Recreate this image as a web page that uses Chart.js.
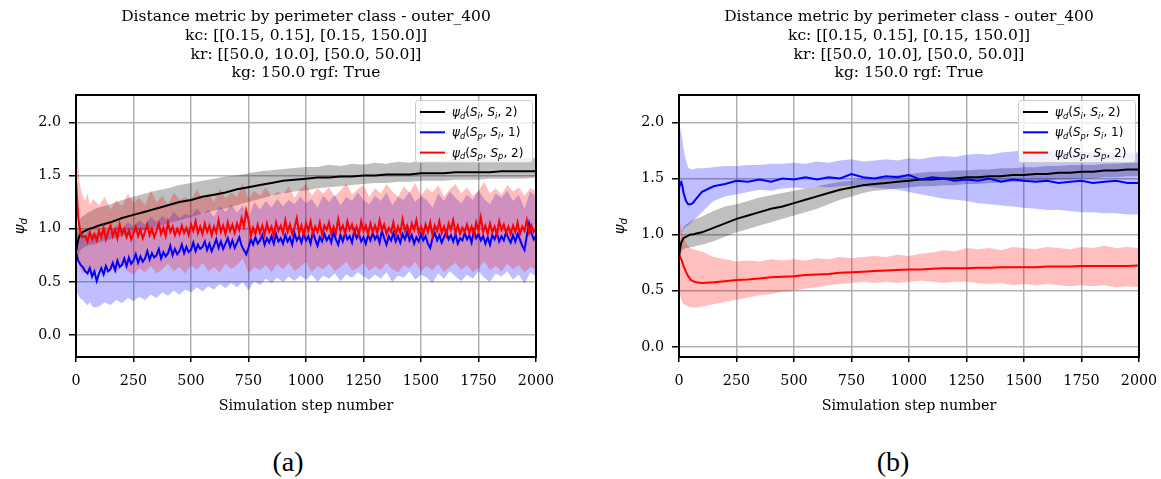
<!DOCTYPE html>
<html>
<head>
<meta charset="utf-8">
<script src="https://cdn.jsdelivr.net/npm/chart.js@4.4.1/dist/chart.umd.min.js"></script>
<style>
  html, body { margin: 0; padding: 0; background: #fff; }
  body { width: 1161px; height: 479px; position: relative; overflow: hidden; }
  canvas { position: absolute; top: 0; }
  #chartA { left: 0; }
  #chartB { left: 590px; }
  .cap { position: absolute; top: 447px; line-height: 30px; font-family: "Liberation Serif", "DejaVu Serif", serif; font-size: 28px; transform: translateX(-50%); }
</style>
</head>
<body>
<canvas id="chartA" width="580" height="420"></canvas>
<canvas id="chartB" width="580" height="420"></canvas>
<div class="cap" style="left:288px">(a)</div>
<div class="cap" style="left:893px">(b)</div>
<script>
const titleLines = [
  'Distance metric by perimeter class - outer_400',
  'kc: [[0.15, 0.15], [0.15, 150.0]]',
  'kr: [[50.0, 10.0], [50.0, 50.0]]',
  'kg: 150.0 rgf: True'
];
const seriesLabels = ['ψ_d(S_i, S_i, 2)', 'ψ_d(S_p, S_i, 1)', 'ψ_d(S_p, S_p, 2)'];
const lineColors = ['#000000', '#0000ff', '#ff0000'];
const bandColors = ['rgba(0,0,0,0.25)', 'rgba(0,0,255,0.25)', 'rgba(255,0,0,0.25)'];
const xTitle = 'Simulation step number';
const yTitle = 'ψ_d';

// step numbers (x values)
const stepsFine = [0, 10, 20, 30, 40, 50, 60, 70, 80, 90,
  100, 110, 120, 130, 140, 150, 160, 170, 180, 190, 200, 210, 220, 230, 240, 250, 260, 270, 280, 290,
  300, 310, 320, 330, 340, 350, 360, 370, 380, 390, 400, 410, 420, 430, 440, 450, 460, 470, 480, 490,
  500, 510, 520, 530, 540, 550, 560, 570, 580, 590, 600, 610, 620, 630, 640, 650, 660, 670, 680, 690,
  700, 710, 720, 730, 740, 750, 760, 770, 780, 790, 800, 810, 820, 830, 840, 850, 860, 870, 880, 890,
  900, 910, 920, 930, 940, 950, 960, 970, 980, 990, 1000, 1010, 1020, 1030, 1040, 1050, 1060, 1070, 1080, 1090,
  1100, 1110, 1120, 1130, 1140, 1150, 1160, 1170, 1180, 1190, 1200, 1210, 1220, 1230, 1240, 1250, 1260, 1270, 1280, 1290,
  1300, 1310, 1320, 1330, 1340, 1350, 1360, 1370, 1380, 1390, 1400, 1410, 1420, 1430, 1440, 1450, 1460, 1470, 1480, 1490,
  1500, 1510, 1520, 1530, 1540, 1550, 1560, 1570, 1580, 1590, 1600, 1610, 1620, 1630, 1640, 1650, 1660, 1670, 1680, 1690,
  1700, 1710, 1720, 1730, 1740, 1750, 1760, 1770, 1780, 1790, 1800, 1810, 1820, 1830, 1840, 1850, 1860, 1870, 1880, 1890,
  1900, 1910, 1920, 1930, 1940, 1950, 1960, 1970, 1980, 1990, 2000];
const stepsDense = [0, 5, 10, 15, 20, 30, 40, 50, 60, 75,
  100, 125, 150, 175, 200, 225, 250, 275, 300, 325, 350, 375, 400, 425, 450, 475,
  500, 525, 550, 575, 600, 625, 650, 675, 700, 725, 750, 775, 800, 825, 850, 875,
  900, 925, 950, 975, 1000, 1025, 1050, 1075, 1100, 1125, 1150, 1175, 1200, 1225, 1250, 1275,
  1300, 1325, 1350, 1375, 1400, 1425, 1450, 1475, 1500, 1525, 1550, 1575, 1600, 1625, 1650, 1675,
  1700, 1725, 1750, 1775, 1800, 1825, 1850, 1875, 1900, 1925, 1950, 1975, 2000];
const stepsSparse = [0, 5, 10, 15, 20, 30, 40, 50, 60, 75,
  100, 150, 200, 250, 300, 350, 400, 450, 500, 550, 600, 650, 700, 750, 800, 850, 900, 950,
  1000, 1050, 1100, 1150, 1200, 1250, 1300, 1350, 1400, 1450, 1500, 1550, 1600, 1650, 1700, 1750,
  1800, 1850, 1900, 1950, 2000];

// ---- panel (a) ----
// black: sparse steps
const aBlackMean = [0.78, 0.85, 0.90, 0.93, 0.95, 0.97, 0.98, 0.99, 1.00, 1.01,
  1.03, 1.06, 1.10, 1.13, 1.16, 1.19, 1.22, 1.25, 1.27, 1.30, 1.32, 1.34, 1.37, 1.39, 1.41, 1.43, 1.45, 1.46,
  1.47, 1.48, 1.48, 1.49, 1.49, 1.50, 1.50, 1.51, 1.51, 1.51, 1.52, 1.52, 1.52, 1.53, 1.53, 1.53,
  1.53, 1.54, 1.54, 1.54, 1.54];
const aBlackHi = [0.95, 1.00, 1.05, 1.08, 1.10, 1.12, 1.13, 1.15, 1.16, 1.18,
  1.20, 1.23, 1.27, 1.30, 1.33, 1.36, 1.38, 1.41, 1.43, 1.45, 1.47, 1.49, 1.50, 1.52, 1.54, 1.55, 1.56, 1.57,
  1.58, 1.58, 1.60, 1.59, 1.61, 1.60, 1.62, 1.61, 1.63, 1.62, 1.64, 1.63, 1.64, 1.65, 1.64, 1.66,
  1.65, 1.66, 1.65, 1.67, 1.66];
const aBlackLo = [0.62, 0.70, 0.75, 0.78, 0.80, 0.82, 0.83, 0.84, 0.85, 0.85,
  0.87, 0.90, 0.93, 0.96, 0.99, 1.02, 1.05, 1.08, 1.11, 1.14, 1.17, 1.19, 1.22, 1.25, 1.28, 1.31, 1.33, 1.35,
  1.36, 1.38, 1.39, 1.40, 1.41, 1.42, 1.43, 1.43, 1.44, 1.44, 1.45, 1.45, 1.45, 1.46, 1.46, 1.46,
  1.47, 1.47, 1.47, 1.47, 1.48];
// blue: mean on fine steps, band on dense steps
const aBlueMean = [0.78, 0.70, 0.66, 0.64, 0.60, 0.58, 0.63, 0.55, 0.60, 0.51,
  0.58, 0.63, 0.57, 0.65, 0.60, 0.62, 0.68, 0.61, 0.70, 0.64,
  0.66, 0.72, 0.65, 0.73, 0.67, 0.70, 0.76, 0.68, 0.74, 0.69,
  0.72, 0.79, 0.71, 0.77, 0.73, 0.75, 0.81, 0.72, 0.78, 0.74,
  0.77, 0.84, 0.75, 0.81, 0.76, 0.79, 0.85, 0.77, 0.83, 0.78,
  0.80, 0.87, 0.79, 0.85, 0.81, 0.83, 0.88, 0.80, 0.86, 0.79,
  0.84, 0.90, 0.82, 0.88, 0.81, 0.86, 0.91, 0.83, 0.89, 0.82,
  0.87, 0.92, 0.84, 0.80, 0.76, 0.82, 0.90, 0.85, 0.92, 0.86,
  0.89, 0.94, 0.85, 0.91, 0.87, 0.93, 0.86, 0.95, 0.88, 0.91,
  0.86, 0.94, 0.88, 0.92, 0.85, 0.96, 0.89, 0.93, 0.87, 0.95,
  0.89, 0.93, 0.86, 0.97, 0.90, 0.84, 0.92, 0.88, 0.95, 0.89,
  0.93, 0.87, 0.97, 0.90, 0.85, 0.94, 0.88, 0.96, 0.90, 0.93,
  0.87, 0.98, 0.91, 0.95, 0.88, 0.92, 0.86, 0.94, 0.89, 0.96,
  0.90, 0.94, 0.87, 0.98, 0.91, 0.85, 0.93, 0.89, 0.96, 0.88,
  0.93, 0.87, 0.95, 0.90, 0.97, 0.89, 0.94, 0.86, 0.92, 0.88,
  0.95, 0.89, 0.93, 0.86, 0.82, 0.91, 0.96, 0.89, 0.94, 0.87,
  0.92, 0.97, 0.90, 0.94, 0.88, 0.95, 0.86, 0.91, 0.89, 0.96,
  0.90, 0.94, 0.87, 0.98, 0.91, 0.95, 0.89, 0.93, 0.86, 0.92,
  0.85, 0.94, 0.90, 0.96, 0.88, 0.93, 0.89, 0.97, 0.91, 0.87,
  0.94, 0.88, 0.95, 0.90, 0.84, 0.80, 0.93, 1.05, 0.96, 0.90,
  0.93];
const aBlueHi = [1.00, 0.98, 0.96, 0.97, 0.95, 0.96, 0.94, 0.97, 0.93, 0.96,
  0.95, 1.00, 0.97, 1.03, 0.99, 1.06, 1.02, 1.08,
  1.04, 1.11, 1.06, 1.12, 1.08, 1.16, 1.10, 1.14,
  1.12, 1.19, 1.13, 1.18, 1.11, 1.21, 1.16, 1.23,
  1.15, 1.22, 1.10, 1.25, 1.18, 1.26, 1.20, 1.28,
  1.21, 1.27, 1.23, 1.30, 1.24, 1.28, 1.20, 1.31,
  1.25, 1.32, 1.22, 1.30, 1.26, 1.34, 1.27, 1.23,
  1.31, 1.26, 1.34, 1.22, 1.30, 1.27, 1.35, 1.25,
  1.31, 1.27, 1.20, 1.33, 1.26, 1.35, 1.29, 1.24,
  1.32, 1.27, 1.36, 1.28, 1.23, 1.33, 1.29, 1.36,
  1.26, 1.32, 1.19, 1.35, 1.30];
const aBlueLo = [0.45, 0.40, 0.37, 0.36, 0.34, 0.33, 0.30, 0.28, 0.31, 0.26,
  0.27, 0.31, 0.28, 0.33, 0.30, 0.35, 0.32, 0.36,
  0.33, 0.38, 0.35, 0.40, 0.37, 0.42, 0.38, 0.43,
  0.40, 0.45, 0.41, 0.46, 0.43, 0.48, 0.44, 0.49,
  0.45, 0.50, 0.42, 0.51, 0.47, 0.53, 0.49, 0.54,
  0.50, 0.55, 0.51, 0.56, 0.52, 0.57, 0.50, 0.56,
  0.53, 0.58, 0.51, 0.57, 0.54, 0.59, 0.55, 0.52,
  0.57, 0.53, 0.59, 0.50, 0.56, 0.54, 0.60, 0.52,
  0.57, 0.54, 0.49, 0.58, 0.53, 0.60, 0.55, 0.51,
  0.57, 0.53, 0.60, 0.54, 0.50, 0.58, 0.55, 0.60,
  0.52, 0.57, 0.48, 0.59, 0.55];
// red: mean on fine steps, band on dense steps
const aRedMean = [1.45, 1.10, 0.95, 0.92, 0.93, 0.88, 0.97, 0.90, 0.95, 0.89,
  0.98, 0.92, 1.01, 0.90, 0.97, 1.03, 0.93, 0.99, 0.91, 1.04,
  0.95, 1.00, 0.92, 0.98, 0.90, 0.96, 1.02, 0.93, 0.99, 0.91,
  0.97, 1.04, 0.94, 1.00, 0.92, 0.98, 1.05, 0.95, 1.01, 0.93,
  1.06, 0.97, 1.02, 0.94, 1.00, 0.95, 1.03, 0.96, 1.01, 0.94,
  1.04, 0.98, 1.07, 0.96, 1.02, 0.95, 1.05, 0.97, 1.03, 0.94,
  1.02, 0.96, 1.08, 0.97, 1.03, 0.95, 1.06, 0.98, 1.04, 0.96,
  1.05, 0.99, 1.10, 1.02, 1.17, 1.08, 0.93, 1.01, 0.95, 1.04,
  0.96, 1.03, 0.94, 1.05, 0.97, 1.02, 0.93, 1.06, 0.98, 1.03,
  0.96, 1.08, 0.97, 1.04, 0.95, 1.01, 1.10, 0.96, 1.03, 0.94,
  1.05, 0.98, 1.07, 0.95, 1.02, 0.97, 1.06, 0.94, 1.03, 0.99,
  1.06, 0.95, 1.02, 0.96, 1.09, 0.98, 1.03, 0.95, 1.07, 0.99,
  1.04, 0.96, 1.02, 0.94, 1.07, 0.98, 1.03, 0.95, 1.05, 0.97,
  1.03, 0.96, 1.08, 0.99, 1.04, 0.95, 1.01, 0.97, 1.06, 0.94,
  1.02, 0.96, 1.09, 0.98, 1.03, 0.95, 1.05, 0.99, 1.08, 0.96,
  1.02, 0.95, 1.04, 0.97, 1.06, 0.94, 1.03, 0.98, 1.07, 0.96,
  1.02, 0.94, 1.05, 0.99, 1.08, 0.96, 1.03, 0.95, 1.01, 0.97,
  1.04, 0.96, 1.02, 0.94, 1.06, 0.98, 1.11, 0.97, 1.03, 0.95,
  1.05, 0.97, 1.02, 0.94, 1.07, 0.99, 1.04, 0.96, 1.02, 0.95,
  1.03, 0.97, 1.06, 0.95, 1.02, 0.98, 1.08, 0.96, 1.03, 0.97,
  1.00];
const aRedHi = [2.00, 1.85, 1.60, 1.45, 1.38, 1.30, 1.26, 1.33, 1.22, 1.28,
  1.22, 1.30, 1.18, 1.27, 1.21, 1.33, 1.24, 1.29,
  1.22, 1.36, 1.25, 1.31, 1.23, 1.34, 1.27, 1.30,
  1.26, 1.37, 1.28, 1.33, 1.25, 1.38, 1.29, 1.34,
  1.30, 1.43, 1.28, 1.36, 1.31, 1.39, 1.30, 1.35,
  1.32, 1.40, 1.29, 1.37, 1.42, 1.31, 1.38, 1.33,
  1.39, 1.30, 1.36, 1.43, 1.32, 1.37, 1.41, 1.30,
  1.38, 1.33, 1.42, 1.35, 1.30, 1.40, 1.34, 1.43,
  1.31, 1.38, 1.34, 1.41, 1.30, 1.37, 1.42, 1.33,
  1.39, 1.31, 1.36, 1.44, 1.33, 1.38, 1.32, 1.41,
  1.35, 1.39, 1.31, 1.38, 1.36];
const aRedLo = [0.95, 0.82, 0.72, 0.66, 0.62, 0.58, 0.60, 0.55, 0.61, 0.57,
  0.62, 0.56, 0.64, 0.58, 0.66, 0.60, 0.57, 0.63,
  0.59, 0.65, 0.58, 0.62, 0.67, 0.60, 0.64, 0.58,
  0.66, 0.61, 0.68, 0.60, 0.64, 0.59, 0.67, 0.62,
  0.66, 0.72, 0.58, 0.64, 0.61, 0.66, 0.59, 0.67,
  0.62, 0.68, 0.60, 0.64, 0.69, 0.59, 0.65, 0.62,
  0.67, 0.60, 0.64, 0.69, 0.61, 0.63, 0.68, 0.60,
  0.65, 0.61, 0.68, 0.62, 0.59, 0.66, 0.63, 0.69,
  0.60, 0.65, 0.61, 0.67, 0.59, 0.64, 0.68, 0.61,
  0.66, 0.59, 0.63, 0.69, 0.61, 0.65, 0.60, 0.67,
  0.62, 0.66, 0.59, 0.64, 0.62];

// ---- panel (b) ---- (all sparse steps)
const bBlackMean = [0.80, 0.88, 0.93, 0.95, 0.97, 0.98, 0.99, 1.00, 1.00, 1.01,
  1.02, 1.06, 1.10, 1.14, 1.17, 1.20, 1.23, 1.25, 1.28, 1.31, 1.34, 1.37, 1.40, 1.42, 1.44, 1.45, 1.46, 1.47,
  1.48, 1.49, 1.49, 1.50, 1.50, 1.51, 1.51, 1.52, 1.52, 1.53, 1.53, 1.54, 1.54, 1.55, 1.55, 1.56,
  1.56, 1.57, 1.57, 1.58, 1.58];
const bBlackHi = [0.85, 0.95, 1.02, 1.05, 1.07, 1.09, 1.10, 1.12, 1.13, 1.14,
  1.16, 1.21, 1.25, 1.27, 1.30, 1.33, 1.35, 1.37, 1.39, 1.41, 1.43, 1.45, 1.47, 1.48, 1.50, 1.51, 1.52, 1.53,
  1.54, 1.55, 1.56, 1.56, 1.57, 1.57, 1.58, 1.58, 1.59, 1.59, 1.60, 1.60, 1.61, 1.61, 1.62, 1.62,
  1.62, 1.63, 1.63, 1.64, 1.64];
const bBlackLo = [0.75, 0.80, 0.84, 0.86, 0.87, 0.88, 0.88, 0.89, 0.89, 0.90,
  0.91, 0.94, 0.98, 1.02, 1.05, 1.08, 1.11, 1.14, 1.17, 1.20, 1.23, 1.27, 1.31, 1.34, 1.37, 1.39, 1.40, 1.41,
  1.42, 1.43, 1.43, 1.44, 1.44, 1.45, 1.45, 1.46, 1.46, 1.47, 1.47, 1.48, 1.48, 1.49, 1.49, 1.50,
  1.50, 1.51, 1.51, 1.52, 1.52];
const bBlueMean = [1.40, 1.46, 1.47, 1.43, 1.37, 1.30, 1.27, 1.27, 1.28, 1.32,
  1.38, 1.43, 1.45, 1.48, 1.47, 1.49, 1.47, 1.50, 1.49, 1.51, 1.49, 1.51, 1.50, 1.54, 1.51, 1.50, 1.52, 1.51,
  1.53, 1.49, 1.51, 1.50, 1.48, 1.49, 1.48, 1.50, 1.47, 1.49, 1.48, 1.47, 1.48, 1.46, 1.47, 1.48,
  1.46, 1.47, 1.48, 1.46, 1.46];
const bBlueHi = [2.00, 1.95, 1.90, 1.84, 1.76, 1.66, 1.60, 1.58, 1.58, 1.59,
  1.59, 1.60, 1.61, 1.61, 1.62, 1.62, 1.63, 1.63, 1.64, 1.63, 1.65, 1.64, 1.66, 1.67, 1.65, 1.66, 1.67, 1.66,
  1.68, 1.67, 1.69, 1.70, 1.69, 1.71, 1.72, 1.71, 1.73, 1.74, 1.75, 1.74, 1.75, 1.74, 1.73, 1.74,
  1.73, 1.74, 1.72, 1.73, 1.73];
const bBlueLo = [1.00, 1.00, 1.02, 1.03, 1.05, 1.07, 1.08, 1.10, 1.12, 1.15,
  1.20, 1.30, 1.34, 1.36, 1.38, 1.40, 1.39, 1.41, 1.42, 1.41, 1.43, 1.42, 1.43, 1.44, 1.43, 1.42, 1.41, 1.40,
  1.38, 1.36, 1.34, 1.32, 1.31, 1.30, 1.28, 1.27, 1.26, 1.25, 1.24, 1.23, 1.22, 1.22, 1.21, 1.20,
  1.20, 1.19, 1.19, 1.18, 1.18];
const bRedMean = [0.82, 0.80, 0.78, 0.75, 0.72, 0.67, 0.63, 0.60, 0.585, 0.575,
  0.57, 0.575, 0.585, 0.595, 0.60, 0.61, 0.62, 0.625, 0.63, 0.64, 0.645, 0.65, 0.66, 0.665, 0.67, 0.675, 0.68, 0.685,
  0.69, 0.69, 0.695, 0.70, 0.70, 0.70, 0.705, 0.705, 0.71, 0.71, 0.71, 0.71, 0.715, 0.715, 0.715, 0.72,
  0.72, 0.72, 0.72, 0.72, 0.725];
const bRedHi = [1.15, 1.10, 1.05, 1.00, 0.97, 0.93, 0.90, 0.88, 0.87, 0.86,
  0.85, 0.80, 0.78, 0.76, 0.77, 0.76, 0.78, 0.77, 0.78, 0.77, 0.79, 0.78, 0.80, 0.79, 0.80, 0.81, 0.80, 0.82,
  0.81, 0.83, 0.84, 0.86, 0.85, 0.88, 0.87, 0.88, 0.86, 0.89, 0.88, 0.87, 0.89, 0.88, 0.87, 0.89,
  0.88, 0.90, 0.88, 0.89, 0.88];
const bRedLo = [0.50, 0.46, 0.42, 0.40, 0.38, 0.37, 0.36, 0.35, 0.35, 0.35,
  0.36, 0.38, 0.40, 0.42, 0.44, 0.46, 0.47, 0.49, 0.50, 0.52, 0.53, 0.55, 0.56, 0.57, 0.58, 0.57, 0.58, 0.57,
  0.58, 0.59, 0.58, 0.57, 0.58, 0.58, 0.57, 0.56, 0.57, 0.55, 0.56, 0.55, 0.56, 0.55, 0.54, 0.55,
  0.54, 0.55, 0.53, 0.54, 0.53];

const serif = '"DejaVu Serif", serif';
const sans = '"DejaVu Sans", sans-serif';

function pts(xs, ys) {
  return xs.map((x, i) => ({ x: x, y: ys[i] }));
}

// split 'ψ_d(S_i, ...)' into glyphs, '_' marks the next char as subscript
function mathTokens(str) {
  const out = [];
  for (let i = 0; i < str.length; i++) {
    let c = str[i], sub = false;
    if (c === '_') { sub = true; c = str[++i]; }
    out.push({ c: c, sub: sub, it: /[A-Za-zψ]/.test(c) });
  }
  return out;
}

function drawMath(ctx, str, x, y, size, measureOnly) {
  let cx = x;
  ctx.textAlign = 'left';
  ctx.textBaseline = 'alphabetic';
  mathTokens(str).forEach(t => {
    const s = t.sub ? size * 0.7 : size;
    ctx.font = (t.it ? 'italic ' : '') + s + 'px ' + sans;
    if (!measureOnly) ctx.fillText(t.c, cx, y + (t.sub ? size * 0.22 : 0));
    cx += ctx.measureText(t.c).width;
  });
  return cx - x;
}

// frame, y label and legend drawn on top
const extras = {
  id: 'extras',
  afterDatasetsDraw(chart) {
    const ctx = chart.ctx, a = chart.chartArea;
    ctx.save();
    ctx.strokeStyle = '#000';
    ctx.lineWidth = 2;
    ctx.strokeRect(a.left, a.top, a.right - a.left, a.bottom - a.top);
    ctx.restore();
  },
  afterDraw(chart, args, opts) {
    const ctx = chart.ctx, a = chart.chartArea;
    ctx.save();
    // y label
    ctx.fillStyle = '#000';
    const w = drawMath(ctx, yTitle, 0, 0, 14.3, true);
    ctx.translate(opts.yLabelX, (a.top + a.bottom) / 2);
    ctx.rotate(-Math.PI / 2);
    drawMath(ctx, yTitle, -w / 2, 5, 14.3);
    ctx.restore();

    // legend
    ctx.save();
    const bw = 117, bh = 62;
    const bx = a.right - bw - 4, by = a.top + 5;
    ctx.beginPath();
    ctx.roundRect(bx + 0.5, by + 0.5, bw, bh, 3);
    ctx.fillStyle = 'rgba(255,255,255,0.8)';
    ctx.fill();
    ctx.strokeStyle = '#cccccc';
    ctx.lineWidth = 1;
    ctx.stroke();
    seriesLabels.forEach((lab, i) => {
      const yy = by + 12 + i * 20.3;
      ctx.beginPath();
      ctx.moveTo(bx + 5, yy);
      ctx.lineTo(bx + 30, yy);
      ctx.strokeStyle = lineColors[i];
      ctx.lineWidth = 2;
      ctx.stroke();
      ctx.fillStyle = '#000';
      drawMath(ctx, lab, bx + 37, yy + 4, 12);
    });
    ctx.restore();
  }
};

function makeChart(id, yMin, yMax, yAxisW, padRight, yLabelX, series) {
  const datasets = [];
  // mean lines first so they sit on top (red above blue above black)
  [2, 1, 0].forEach(k => {
    datasets.push({
      label: seriesLabels[k],
      data: pts(series[k].meanSteps, series[k].mean),
      borderColor: lineColors[k],
      borderWidth: 2,
      pointRadius: 0,
      fill: false
    });
  });
  [2, 1, 0].forEach(k => {
    datasets.push({
      label: seriesLabels[k] + ' hi',
      data: pts(series[k].steps, series[k].hi),
      borderWidth: 0,
      pointRadius: 0,
      backgroundColor: bandColors[k],
      fill: '+1'
    });
    datasets.push({
      label: seriesLabels[k] + ' lo',
      data: pts(series[k].steps, series[k].lo),
      borderWidth: 0,
      pointRadius: 0,
      fill: false
    });
  });

  return new Chart(document.getElementById(id), {
    type: 'line',
    data: { datasets: datasets },
    plugins: [extras],
    options: {
      responsive: false,
      animation: false,
      devicePixelRatio: 1,
      layout: { padding: { left: 0, right: padRight, top: 0, bottom: 0 } },
      plugins: {
        legend: { display: false },
        tooltip: { enabled: false },
        filler: { drawTime: 'beforeDatasetsDraw' },
        title: {
          display: true,
          fullSize: false,
          text: titleLines,
          color: '#000',
          font: { family: serif, size: 15.5, weight: 'normal', lineHeight: 1.2 },
          padding: { top: 8, bottom: 12.6 }
        },
        extras: { yLabelX: yLabelX }
      },
      scales: {
        x: {
          type: 'linear',
          min: 0,
          max: 2000,
          afterFit(scale) { scale.height = 63; },
          border: { display: false },
          grid: { color: '#b0b0b0', lineWidth: 1.5, tickColor: '#000', tickLength: 5, tickWidth: 1.5 },
          ticks: {
            stepSize: 250,
            color: '#000',
            padding: 11,
            maxRotation: 0,
            autoSkip: false,
            font: { family: serif, size: 14.3 },
            callback: v => String(v)
          },
          title: {
            display: true,
            text: xTitle,
            color: '#000',
            font: { family: serif, size: 14.3 },
            padding: { top: 4, bottom: 5 }
          }
        },
        y: {
          type: 'linear',
          min: yMin,
          max: yMax,
          afterFit(scale) { scale.width = yAxisW; },
          border: { display: false },
          grid: { color: '#b0b0b0', lineWidth: 1.5, tickColor: '#000', tickLength: 7, tickWidth: 1.5 },
          ticks: {
            stepSize: 0.5,
            includeBounds: false,
            color: '#000',
            padding: 8,
            font: { family: serif, size: 14.3 },
            callback: v => v.toFixed(1)
          }
        }
      }
    }
  });
}

makeChart('chartA', -0.205, 2.256, 76, 44, 19, [
  { meanSteps: stepsSparse, steps: stepsSparse, mean: aBlackMean, lo: aBlackLo, hi: aBlackHi },
  { meanSteps: stepsFine, steps: stepsDense, mean: aBlueMean, lo: aBlueLo, hi: aBlueHi },
  { meanSteps: stepsFine, steps: stepsDense, mean: aRedMean, lo: aRedLo, hi: aRedHi }
]);

makeChart('chartB', -0.09, 2.243, 89, 31, 29, [
  { meanSteps: stepsSparse, steps: stepsSparse, mean: bBlackMean, lo: bBlackLo, hi: bBlackHi },
  { meanSteps: stepsSparse, steps: stepsSparse, mean: bBlueMean, lo: bBlueLo, hi: bBlueHi },
  { meanSteps: stepsSparse, steps: stepsSparse, mean: bRedMean, lo: bRedLo, hi: bRedHi }
]);
</script>
</body>
</html>
